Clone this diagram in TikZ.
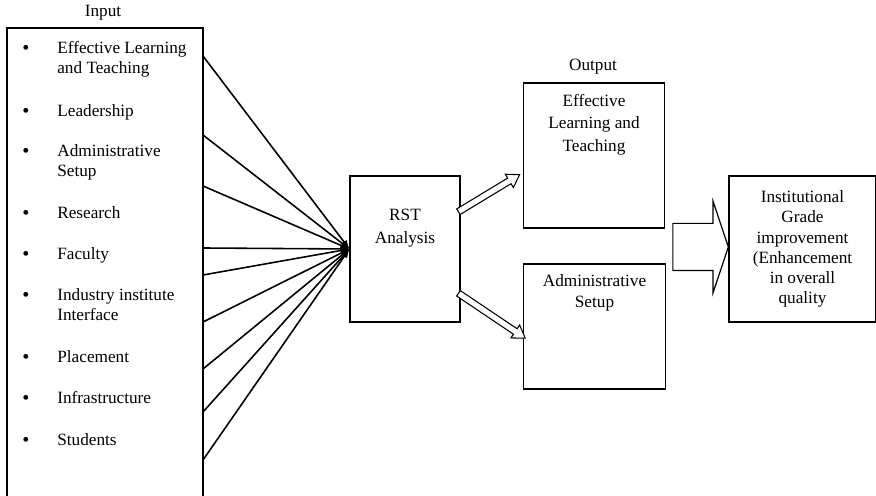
\documentclass[tikz,border=0pt]{standalone}
\usepackage{fontspec}
\setmainfont{Liberation Serif}
\usetikzlibrary{arrows.meta,shapes.arrows}

\tikzset{
  box/.style={draw, line width=0.7pt, inner sep=0pt},
  txt/.style={align=center, inner sep=0pt},
  item/.style={align=left, anchor=north west, inner sep=0pt},
  feed/.style={line width=0.9pt, -{Latex[length=5pt,width=4pt]}},
  hollow/.style={single arrow, draw, fill=white, line width=0.6pt, inner xsep=0pt,
    inner ysep=0.055cm, single arrow head extend=0.09cm, single arrow tip angle=66},
  bigarrow/.style={single arrow, draw, line width=0.7pt, inner xsep=0pt, inner ysep=0.46cm,
    single arrow head extend=0.44cm, single arrow tip angle=143}
}

\begin{document}
\begin{tikzpicture}[x=0.02cm, y=0.02cm, font=\fontsize{9.8}{11.5}\selectfont]
  \useasboundingbox (0,0) rectangle (876,496);

  % Input side
  \node[txt] (inlabel) at (103,483) {Input};
  \node[box, minimum width=3.92cm, minimum height=9.44cm] (inbox) at (105,232) {};
  \foreach \c/\txt [count=\i] in {449/{Effective Learning\\and Teaching}, 386/Leadership,
      346/{Administrative\\Setup}, 284/Research, 243/Faculty, 202/{Industry institute\\Interface},
      140/Placement, 99/Infrastructure, 57/Students} {
    \node[inner sep=0pt, font=\fontsize{11.5}{11.5}\selectfont] (bul\i) at (26,\c-3) {\textbullet};
    \node[item] (it\i) at (57,\c+6) {\txt};
  }

  % RST box
  \node[box, minimum width=2.2cm, minimum height=2.92cm] (rst) at (405,247) {};
  \node[txt, font=\fontsize{9.8}{13}\selectfont] (rsttext) at (405,268) {RST\\Analysis};

  % Lines into the analysis
  \foreach \y [count=\i] in {440,361,310,248,221,174,127,84,36} {
    \coordinate (src\i) at (203,\y);
    \draw[feed] (src\i) -- (rst.west);
  }

  % Output side
  \node[txt] (outlabel) at (593,429) {Output};
  \node[box, minimum width=2.83cm, minimum height=2.9cm] (out1) at (594,340.5) {};
  \node[txt, font=\fontsize{9.8}{12.8}\selectfont] (out1text) at (594,371.5) {Effective\\Learning and\\Teaching};
  \node[box, minimum width=2.83cm, minimum height=2.5cm] (out2) at (594.5,169.5) {};
  \node[txt, font=\fontsize{9.8}{12}\selectfont] (out2text) at (594.5,203.5) {Administrative\\Setup};

  \node[hollow, minimum height=1.43cm, rotate=31.2, anchor=tail] (toout1) at (458,284) {};
  \node[hollow, minimum height=1.61cm, rotate=-33.9, anchor=tail] (toout2) at (458,203) {};

  % Result
  \node[box, txt, minimum width=2.94cm, minimum height=2.92cm] (final) at (802.5,247)
    {Institutional\\Grade\\improvement\\(Enhancement\\in overall\\quality};
  \node[bigarrow, minimum height=1.11cm, anchor=tip] (gain) at (729,249) {};
\end{tikzpicture}
\end{document}
